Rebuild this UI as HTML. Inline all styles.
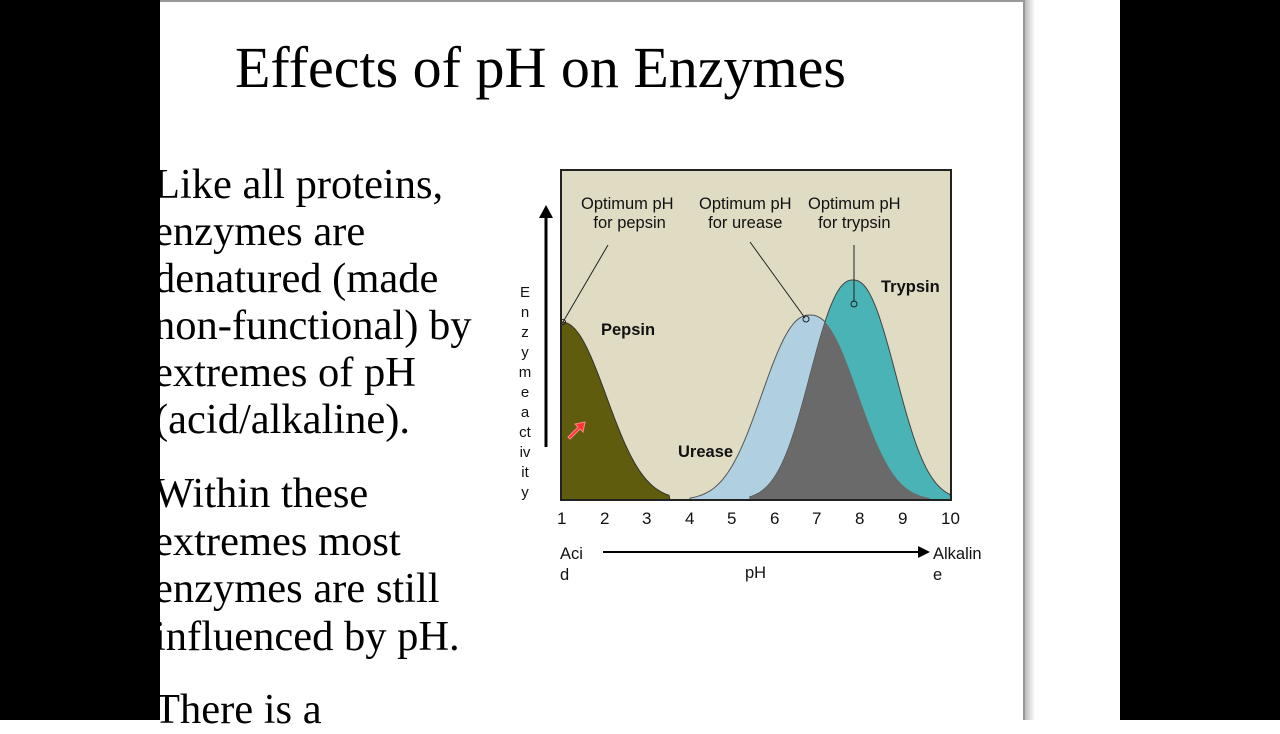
<!DOCTYPE html>
<html><head><meta charset="utf-8"><style>
body{margin:0;width:1280px;height:720px;overflow:hidden;background:#fff;position:relative;font-family:"Liberation Sans",sans-serif}
.blk{position:absolute;top:0;height:720px;background:#000;z-index:5}
.serif{font-family:"Liberation Serif",serif;position:absolute;color:#000;white-space:nowrap}
.t{position:absolute;font-size:16.5px;color:#111;white-space:nowrap}
</style></head><body>
<div class="blk" style="left:0;width:160px"></div>
<div class="blk" style="left:1120px;width:160px"></div>
<div style="position:absolute;left:160px;top:0;width:865px;height:720px;border-top:2px solid #999;border-right:2px solid #999;box-sizing:border-box"></div>
<div style="position:absolute;left:1025px;top:0;width:10px;height:720px;background:linear-gradient(to right,#bbb,#fff)"></div>
<div class="serif" style="left:235px;top:34px;font-size:58px">Effects of pH on Enzymes</div>
<div class="serif" style="left:154px;top:161px;font-size:42.5px;line-height:47px">Like all proteins,<br>enzymes are<br>denatured (made<br>non-functional) by<br>extremes of pH<br>(acid/alkaline).</div>
<div class="serif" style="left:154px;top:470px;font-size:42.5px;line-height:47.5px">Within these<br>extremes most<br>enzymes are still<br>influenced by pH.</div>
<div class="serif" style="left:154px;top:685px;font-size:42.5px">There is a</div>
<svg width="1280" height="720" style="position:absolute;left:0;top:0" id="s">
<defs><clipPath id="cu"><path id="cuP"/></clipPath></defs>
<rect x="561" y="170" width="390" height="330" fill="#e0dcc4" stroke="#222" stroke-width="2"/>
<path id="pep" fill="#5f5c0e" stroke="#333" stroke-width="1"/>
<path id="ure" fill="#b0cfe0" stroke="#555" stroke-width="1"/>
<path id="try" fill="#4ab3b6" stroke="#444" stroke-width="1"/>
<path id="ov" fill="#6a6a6a" clip-path="url(#cu)"/>
<rect x="561" y="170" width="390" height="330" fill="none" stroke="#222" stroke-width="2"/>
<line x1="546" y1="447" x2="546" y2="215" stroke="#000" stroke-width="3"/>
<polygon points="539,218 546,205 553,218" fill="#000"/>
<line x1="603" y1="552" x2="920" y2="552" stroke="#000" stroke-width="2"/>
<polygon points="918,546 930,552 918,558" fill="#000"/>
<line x1="608" y1="245" x2="563" y2="322" stroke="#222"/>
<line x1="750" y1="242" x2="805" y2="318" stroke="#222"/>
<line x1="854" y1="245" x2="854" y2="302" stroke="#222"/>
<circle cx="563" cy="322" r="2.5" fill="none" stroke="#222"/>
<circle cx="806" cy="319" r="3" fill="none" stroke="#222"/>
<circle cx="854" cy="304" r="3" fill="none" stroke="#222"/>
<path d="M568 437 l10 -10 l-3 -3 l10 -2 l-2 10 l-3 -3 l-10 10z" fill="#f33" stroke="#f88"/>
</svg>
<div class="t" style="left:581px;top:195px;text-align:center;line-height:19px">Optimum pH<br>&nbsp;for pepsin</div>
<div class="t" style="left:699px;top:195px;text-align:center;line-height:19px">Optimum pH<br>for urease</div>
<div class="t" style="left:808px;top:195px;text-align:center;line-height:19px">Optimum pH<br>for trypsin</div>
<div class="t" style="left:601px;top:321px;font-weight:bold">Pepsin</div>
<div class="t" style="left:678px;top:443px;font-weight:bold">Urease</div>
<div class="t" style="left:881px;top:278px;font-weight:bold">Trypsin</div>
<div class="t" style="left:516px;top:283px;line-height:20px;text-align:center;width:18px;font-size:15px">E<br>n<br>z<br>y<br>m<br>e<br>a<br>ct<br>iv<br>it<br>y</div>
<div class="t" style="left:560px;top:544px;line-height:21px">Aci<br>d</div>
<div class="t" style="left:745px;top:564px">pH</div>
<div class="t" style="left:933px;top:544px;line-height:21px">Alkalin<br>e</div>
<div id="ticks"></div>
<script>
function g(c,h,s,p,x0,x1){let d="M"+x0+" 500";for(let x=x0;x<=x1;x+=2){d+=" L"+x+" "+(500-h*Math.exp(-Math.pow(Math.abs(x-c)/s,p))).toFixed(1)}return d+" L"+x1+" 500Z";}
function pep(){let d="M561 500 L561 322";for(let x=561;x<=670;x+=2){let t=x-561;d+=" L"+x+" "+(500-178*Math.exp(-Math.pow(t/60,2.2))).toFixed(1)}return d+" L670 500Z";}
document.getElementById("pep").setAttribute("d",pep());
let u=g(810,185,62,2.3,690,930),t=g(853,220,55,2.3,750,951);
document.getElementById("ure").setAttribute("d",u);
document.getElementById("try").setAttribute("d",t);
document.getElementById("cuP").setAttribute("d",u);
document.getElementById("ov").setAttribute("d",t);
let xs=[561,604,646,689,731,774,816,859,902,950],h="";
xs.forEach((x,i)=>{h+='<div class="t" style="left:'+(x-(i==9?9:4))+'px;top:509px;font-size:17px">'+(i+1)+'</div>'});
document.getElementById("ticks").innerHTML=h;
</script>
</body></html>
